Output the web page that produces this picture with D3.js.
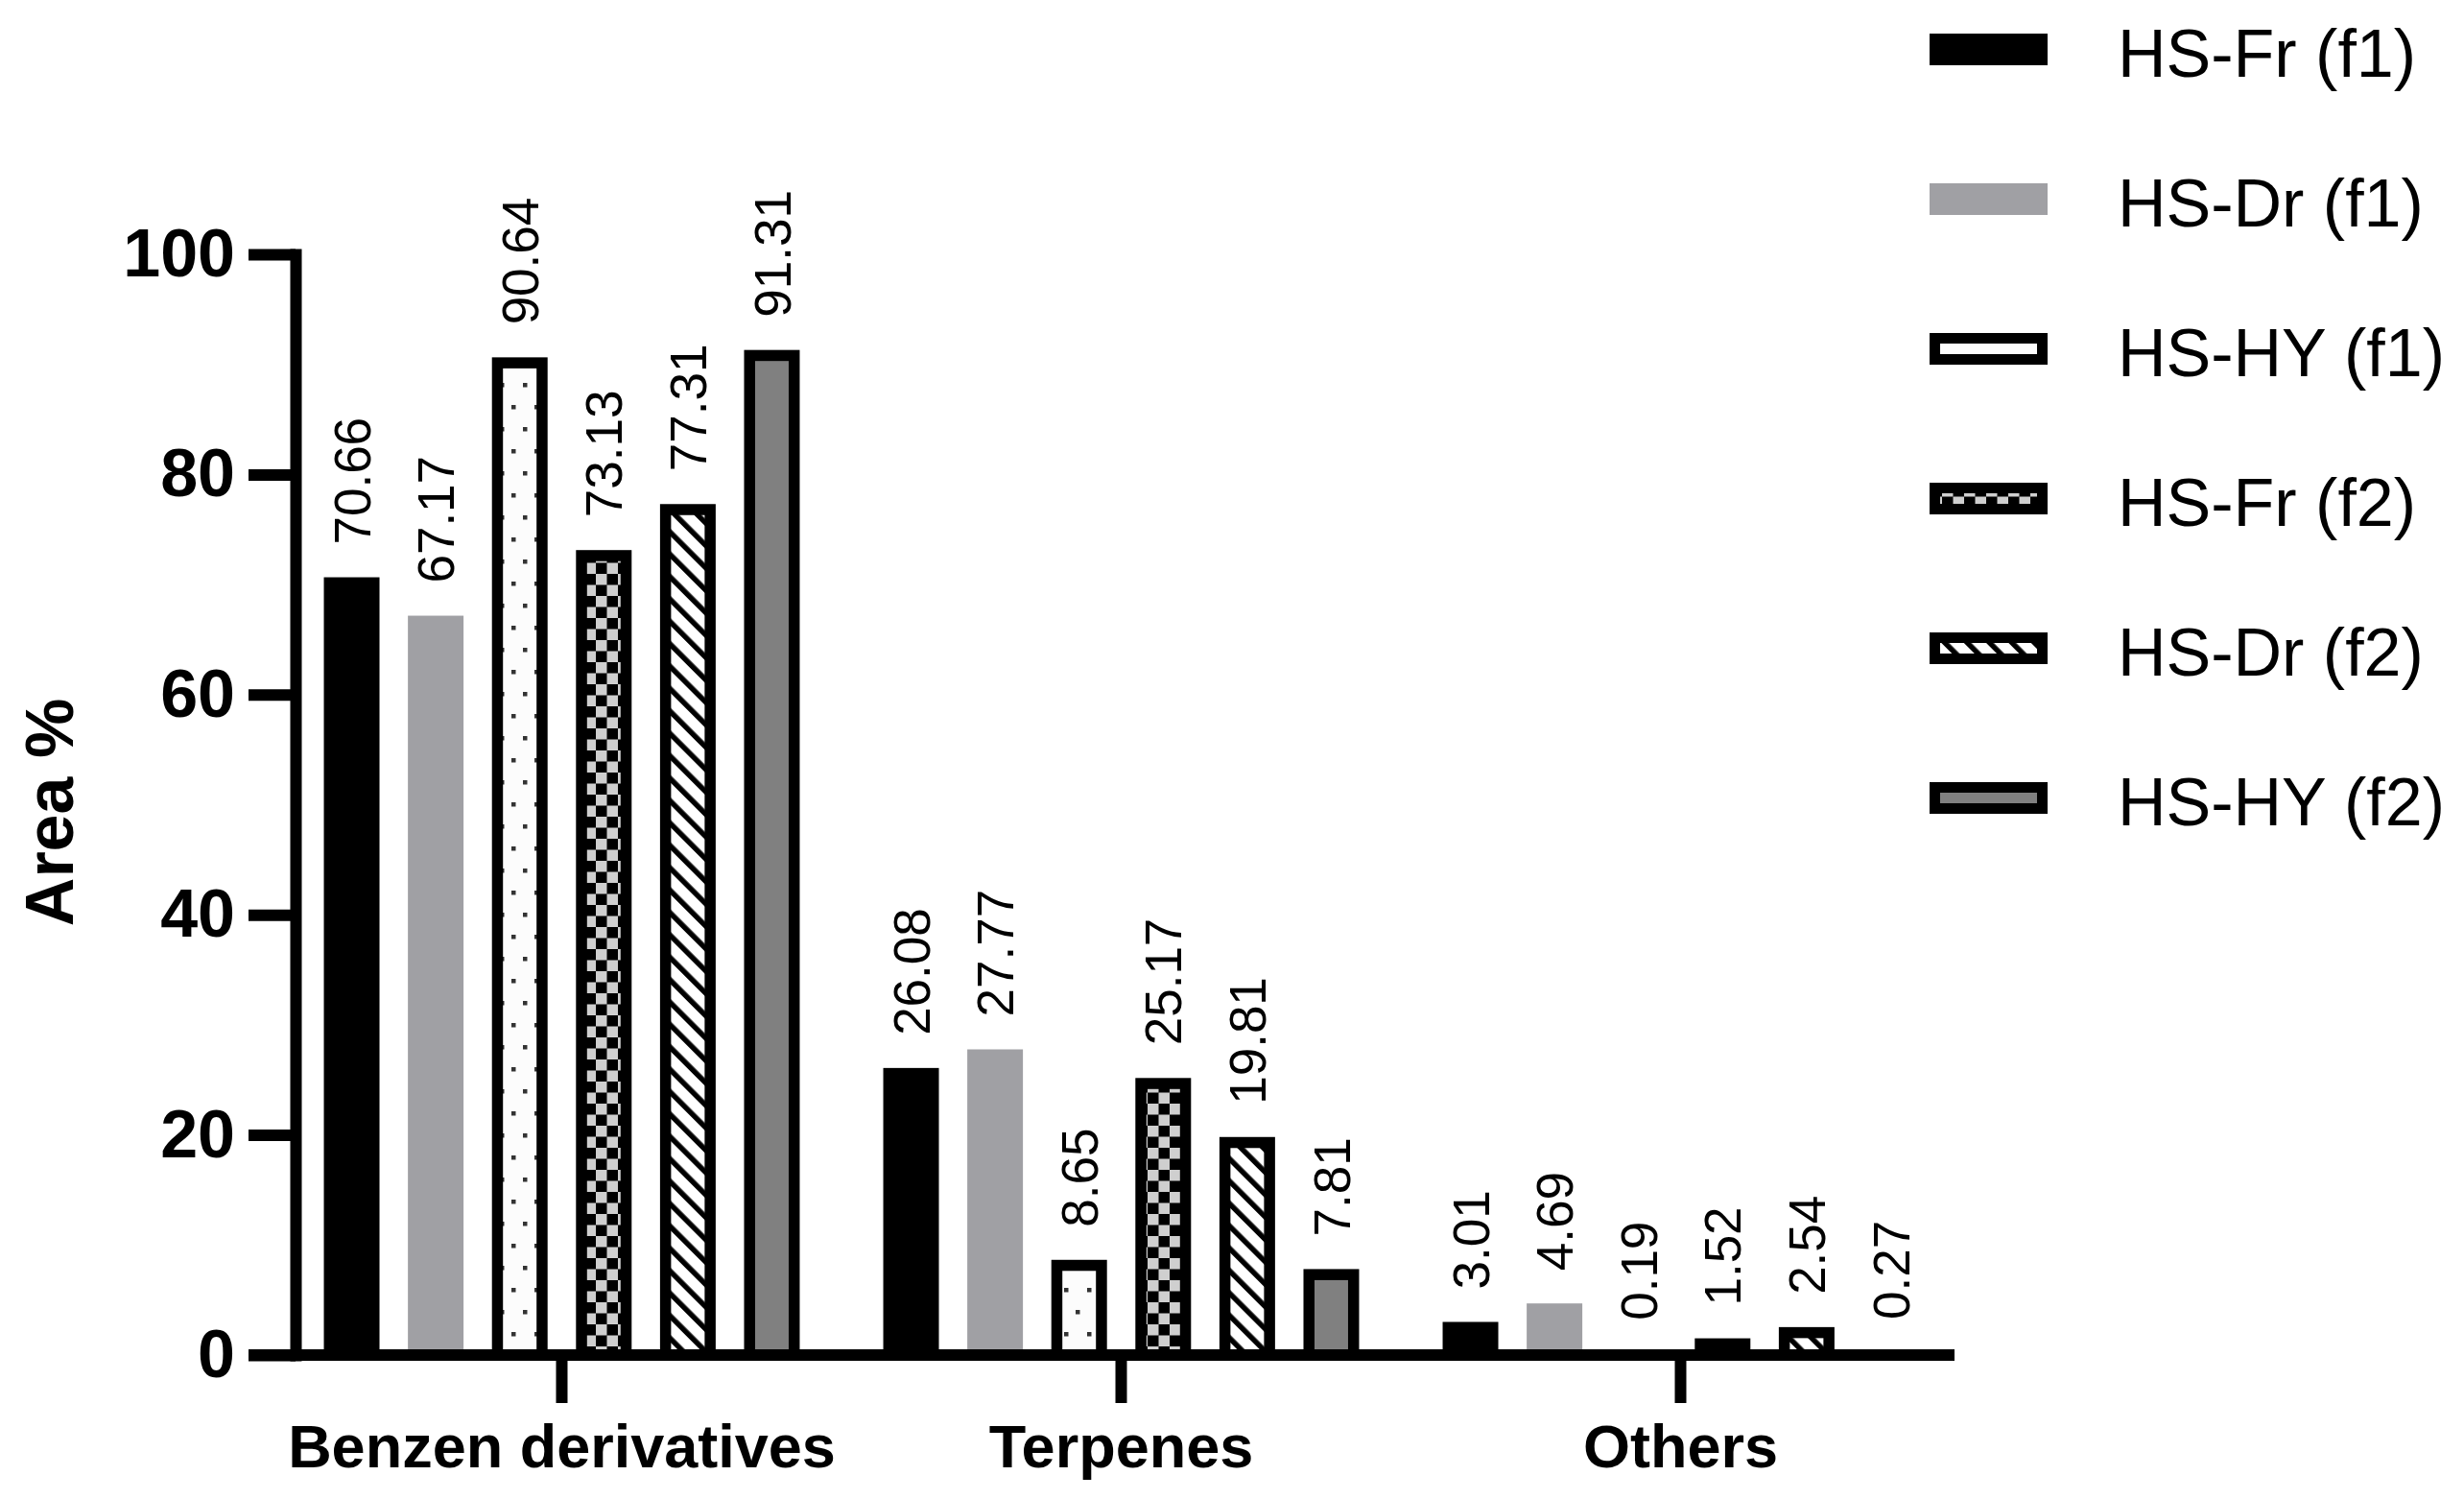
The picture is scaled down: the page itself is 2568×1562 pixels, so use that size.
<!DOCTYPE html>
<html>
<head>
<meta charset="utf-8">
<script src="https://cdn.jsdelivr.net/npm/d3@7/dist/d3.min.js"></script>
<style>
  html, body { margin: 0; padding: 0; background: #fff; }
  svg { display: block; }
  text { font-family: "Liberation Sans", Arial, sans-serif; }
</style>
</head>
<body>
<svg id="chart" width="2568" height="1562"></svg>
<script>
// ---- Data ----
const categories = ["Benzen derivatives", "Terpenes", "Others"];
const seriesNames = ["HS-Fr (f1)", "HS-Dr (f1)", "HS-HY (f1)", "HS-Fr (f2)", "HS-Dr (f2)", "HS-HY (f2)"];
const hsFrF1 = [70.66, 26.08, 3.01];
const hsDrF1 = [67.17, 27.77, 4.69];
const hsHyF1 = [90.64, 8.65, 0.19];
const hsFrF2 = [73.13, 25.17, 1.52];
const hsDrF2 = [77.31, 19.81, 2.54];
const hsHyF2 = [91.31, 7.81, 0.27];
const seriesValues = [hsFrF1, hsDrF1, hsHyF1, hsFrF2, hsDrF2, hsHyF2];
const yTicks = [0, 20, 40, 60, 80, 100];
const yTitle = "Area %";

// ---- Styles (per series) ----
const seriesStyle = [
  { fill: "#000000", border: false },
  { fill: "#a0a0a4", border: false },
  { fill: "url(#dots)", border: true },
  { fill: "url(#checker)", border: true },
  { fill: "url(#hatch)", border: true },
  { fill: "#808080", border: true }
];
const BORDER = 11.5;

const svg = d3.select("#chart");

// ---- Patterns ----
const defs = svg.append("defs");
const dots = defs.append("pattern").attr("id", "dots").attr("patternUnits", "userSpaceOnUse")
  .attr("width", 24).attr("height", 46);
dots.append("rect").attr("width", 24).attr("height", 46).attr("fill", "#fcfcfc");
dots.append("rect").attr("x", 5).attr("y", 8).attr("width", 4.5).attr("height", 4.5).attr("fill", "#333");
dots.append("rect").attr("x", 17).attr("y", 31).attr("width", 4.5).attr("height", 4.5).attr("fill", "#333");

const checker = defs.append("pattern").attr("id", "checker").attr("patternUnits", "userSpaceOnUse")
  .attr("width", 23).attr("height", 23);
checker.append("rect").attr("width", 23).attr("height", 23).attr("fill", "#000");
checker.append("rect").attr("x", 0).attr("y", 0).attr("width", 11.5).attr("height", 11.5).attr("fill", "#cfcfcf");
checker.append("rect").attr("x", 11.5).attr("y", 11.5).attr("width", 11.5).attr("height", 11.5).attr("fill", "#cfcfcf");

const hatch = defs.append("pattern").attr("id", "hatch").attr("patternUnits", "userSpaceOnUse")
  .attr("width", 16.5).attr("height", 16.5).attr("patternTransform", "rotate(-45)");
hatch.append("rect").attr("width", 16.5).attr("height", 16.5).attr("fill", "#fff");
hatch.append("rect").attr("x", 0).attr("y", 0).attr("width", 5.5).attr("height", 16.5).attr("fill", "#000");

// ---- Scales ----
const y = d3.scaleLinear().domain([0, 100]).range([1412, 265]);
const x0 = d3.scaleBand().domain(categories).range([294, 2043]);
const x1 = d3.scaleBand().domain(seriesNames).range([0, x0.bandwidth()])
  .paddingInner(0.338).paddingOuter(0.497);
const axisX = 308;

// ---- Bars ----
const barData = [];
categories.forEach((c, ci) => {
  seriesNames.forEach((s, si) => {
    barData.push({ cat: c, series: s, si: si, value: seriesValues[si][ci] });
  });
});

const bars = svg.append("g").attr("class", "bars");
barData.forEach(d => {
  const bx = x0(d.cat) + x1(d.series);
  const bw = x1.bandwidth();
  const by = y(d.value);
  const bh = y(0) - by;
  const st = seriesStyle[d.si];
  if (st.border) {
    bars.append("rect").attr("x", bx).attr("y", by).attr("width", bw).attr("height", bh).attr("fill", "#000");
    const ih = bh - BORDER; // bottom hidden by axis
    if (ih > 0) {
      bars.append("rect").attr("x", bx + BORDER).attr("y", by + BORDER)
        .attr("width", bw - 2 * BORDER).attr("height", ih).attr("fill", st.fill);
    }
  } else {
    bars.append("rect").attr("x", bx).attr("y", by).attr("width", bw).attr("height", bh).attr("fill", st.fill);
  }
});

// ---- Value labels ----
const labels = svg.append("g").attr("class", "labels");
barData.forEach(d => {
  const cx = x0(d.cat) + x1(d.series) + x1.bandwidth() / 2;
  labels.append("text")
    .attr("transform", `translate(${cx},${y(d.value) - 34}) rotate(-90)`)
    .attr("dy", "0.36em")
    .attr("text-anchor", "start")
    .attr("font-size", 53)
    .attr("fill", "#000")
    .text(d.value.toFixed(2));
});

// ---- Y axis ----
const yAxis = d3.axisLeft(y).tickValues(yTicks).tickSize(49).tickSizeOuter(0).tickPadding(14);
const gy = svg.append("g").attr("transform", `translate(${axisX},0)`).call(yAxis);
gy.select(".domain").attr("stroke", "#000").attr("stroke-width", 12).attr("stroke-linecap", "square");
gy.selectAll(".tick line").attr("stroke", "#000").attr("stroke-width", 12);
gy.selectAll(".tick text").attr("font-size", 70).attr("font-weight", "bold")
  .attr("font-family", '"Liberation Sans", Arial, sans-serif').attr("fill", "#000");

// ---- X axis ----
const xAxis = d3.axisBottom(x0).tickSize(50).tickSizeOuter(0);
const gx = svg.append("g").attr("transform", `translate(0,${y(0)})`).call(xAxis);
gx.select(".domain").remove();
gx.selectAll(".tick line").attr("stroke", "#000").attr("stroke-width", 12);
gx.selectAll(".tick text").attr("font-size", 63).attr("font-weight", "bold")
  .attr("font-family", '"Liberation Sans", Arial, sans-serif').attr("fill", "#000")
  .attr("y", 117).attr("dy", 0);
gx.append("line").attr("x1", axisX - 49).attr("x2", x0.range()[1] - 6)
  .attr("y1", 0).attr("y2", 0).attr("stroke", "#000").attr("stroke-width", 12);

// ---- Y title ----
svg.append("text")
  .attr("transform", `translate(76,${(y(0) + y(100)) / 2 + 8}) rotate(-90)`)
  .attr("text-anchor", "middle")
  .attr("font-size", 70).attr("font-weight", "bold")
  .text(yTitle);

// ---- Legend ----
const legend = svg.append("g").attr("class", "legend");
seriesNames.forEach((s, i) => {
  const ly = 35 + i * 156;
  const st = seriesStyle[i];
  if (st.border) {
    legend.append("rect").attr("x", 2011).attr("y", ly).attr("width", 123).attr("height", 33).attr("fill", "#000");
    legend.append("rect").attr("x", 2011 + 11).attr("y", ly + 11).attr("width", 123 - 22).attr("height", 11).attr("fill", st.fill);
  } else {
    legend.append("rect").attr("x", 2011).attr("y", ly).attr("width", 123).attr("height", 33).attr("fill", st.fill);
  }
  legend.append("text").attr("x", 2207).attr("y", 80 + i * 156)
    .attr("font-size", 70).attr("fill", "#000").text(s);
});
</script>
</body>
</html>
